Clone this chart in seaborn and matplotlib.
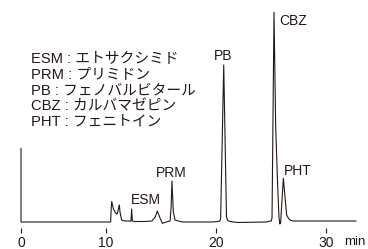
import numpy as np
import matplotlib
matplotlib.use("Agg")
import matplotlib.pyplot as plt
import seaborn as sns

# retention time (min) and detector signal (arbitrary units)
time_min = [0, 0, 10.45, 10.5, 10.55, 10.7, 10.9, 11.05, 11.2, 11.24,
            11.3, 11.45, 11.7, 12.3, 12.36, 12.42, 12.6, 13.5, 14.2, 14.5,
            14.69, 14.9, 15.15, 15.5, 15.85, 15.95, 16.02, 16.15, 16.3, 16.6,
            17.0, 19.6, 20.2, 20.38, 20.45, 20.73, 20.98, 21.08, 21.3, 22.0,
            24.6, 24.95, 25.05, 25.12, 25.3, 25.45, 25.62, 25.75, 25.83, 25.9,
            26.15, 26.3, 26.45, 26.6, 26.75, 27.0, 30.0, 32.76]
signal = [73.7, 0, 0, 14, 20.5, 13, 9, 8, 15, 17,
          10, 2, 1, 1, 13, 1, 0.5, 0.5, 1, 5,
          11, 5, -1.3, 0, 1, 15, 41, 10, 2, 1,
          0, 0, 0.5, 1, 4, 157, 5, 1.5, 0.5, -0.5,
          0, 1, 1, 4, 209.7, 97, 40, 5, -2, -1,
          43.7, 25, 7, 4, 2, 1, 1, 1]

peak_names = ["ESM", "PRM", "PB", "CBZ", "PHT"]
peak_label_x = [13.66, 15.94, 20.69, 27.03, 27.47]
peak_label_y = [22, 49.3, 166, 201.3, 51]

legend_lines = ["ESM : エトサクシミド", "PRM : プリミドン", "PB : フェノバルビタール",
                "CBZ : カルバマゼピン", "PHT : フェニトイン"]

tick_pos = [0, 10, 20, 30]
tick_labels = ["0", "10", "20", "30"]

sns.set_style("white")
plt.rcParams["font.family"] = ["Liberation Sans", "Noto Sans CJK JP", "DejaVu Sans"]

ink = "#231815"
fs = 10

fig = plt.figure(figsize=(3.68, 2.49), dpi=100)
ax = fig.add_axes([0, 1 - 227.7 / 249, 1, 227.7 / 249])

# first 10 minutes are drawn compressed in the original figure
def fwd(t):
    t = np.asarray(t, dtype=float)
    return np.where(t < 10, 10 - (10 - t) * 0.77, t)

def inv(u):
    u = np.asarray(u, dtype=float)
    return np.where(u < 10, 10 - (10 - u) / 0.77, u)

ax.set_xscale("function", functions=(fwd, inv))

sns.lineplot(x=time_min, y=signal, ax=ax, sort=False, estimator=None,
             color=ink, linewidth=0.8)

ax.set_xlim(-2.479, 33.845)
ax.set_ylim(-5.7, 222)

for name, x, y in zip(peak_names, peak_label_x, peak_label_y):
    ax.text(x, y, name, ha="center", va="center", fontsize=fs, color=ink)

for i, line in enumerate(legend_lines):
    ax.text(0.0834, 0.742 - i * 0.0694, line, transform=ax.transAxes,
            ha="left", va="center", fontsize=10.6, color=ink)

ax.set_xticks(tick_pos)
ax.set_xticklabels(tick_labels)
ax.set_yticks([])
ax.tick_params(axis="x", direction="out", length=3.3, width=0.8, pad=2.5,
               labelsize=fs, colors=ink, bottom=True)
ax.text(31.7, -0.088, "min", transform=ax.get_xaxis_transform(),
        ha="left", va="bottom", fontsize=9.5, color=ink)

for sp in ax.spines.values():
    sp.set_visible(False)
ax.set_xlabel("")
ax.set_ylabel("")

fig.savefig("out.png", dpi=100)
